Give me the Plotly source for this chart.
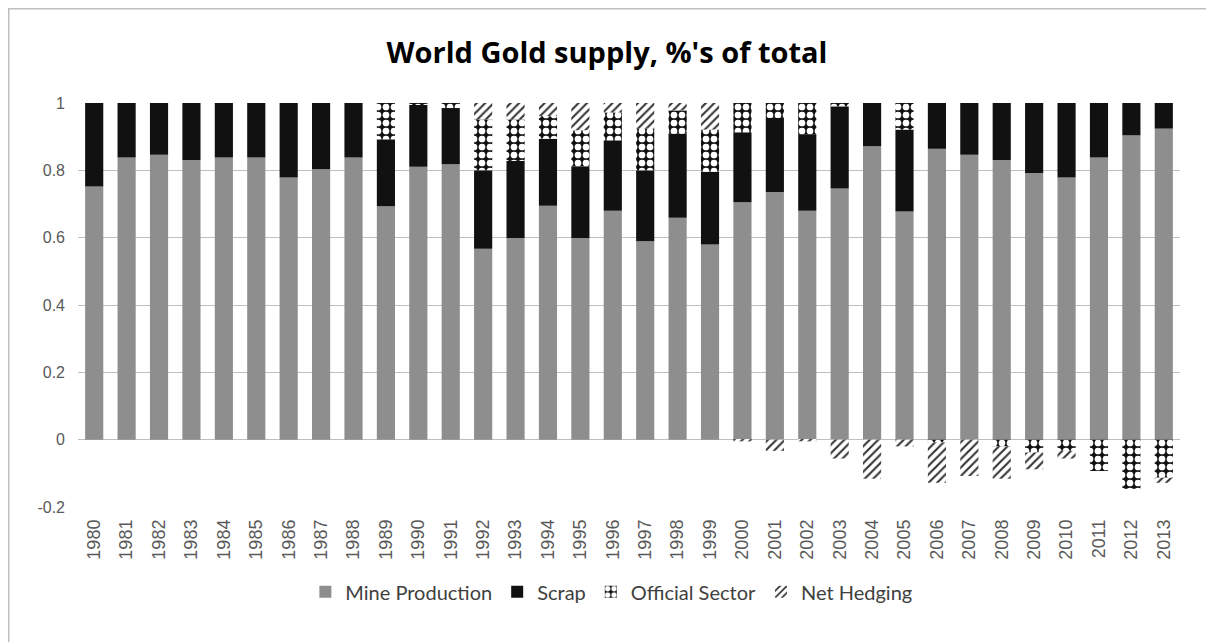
import plotly.graph_objects as go

years = [str(y) for y in range(1980, 2014)]

mine_production = [0.752, 0.838, 0.846, 0.831, 0.838, 0.838, 0.779, 0.803, 0.838, 0.693,
                   0.811, 0.818, 0.567, 0.599, 0.695, 0.599, 0.680, 0.589, 0.659, 0.580,
                   0.705, 0.736, 0.680, 0.746, 0.872, 0.678, 0.864, 0.846, 0.831, 0.792,
                   0.779, 0.838, 0.904, 0.924]
scrap = [0.248, 0.162, 0.154, 0.169, 0.162, 0.162, 0.221, 0.197, 0.162, 0.199,
         0.184, 0.167, 0.233, 0.229, 0.199, 0.212, 0.209, 0.211, 0.250, 0.216,
         0.208, 0.220, 0.227, 0.244, 0.128, 0.243, 0.136, 0.154, 0.169, 0.208,
         0.221, 0.162, 0.096, 0.076]
official_sector = [0.0, 0.0, 0.0, 0.0, 0.0, 0.0, 0.0, 0.0, 0.0, 0.108,
                   0.005, 0.015, 0.151, 0.123, 0.067, 0.108, 0.083, 0.124, 0.069, 0.125,
                   0.087, 0.044, 0.093, 0.010, 0.0, 0.079, -0.008, 0.0, -0.020, -0.038,
                   -0.033, -0.093, -0.146, -0.113]
net_hedging = [0.0, 0.0, 0.0, 0.0, 0.0, 0.0, 0.0, 0.0, 0.0, 0.0,
               0.0, 0.0, 0.049, 0.049, 0.039, 0.081, 0.028, 0.076, 0.022, 0.079,
               -0.005, -0.033, -0.005, -0.056, -0.116, -0.020, -0.120, -0.108, -0.096, -0.050,
               -0.023, 0.0, 0.0, -0.015]

y_ticks = [-0.2, 0, 0.2, 0.4, 0.6, 0.8, 1]
y_tick_labels = ["-0.2", "0", "0.2", "0.4", "0.6", "0.8", "1"]

# page body has an 8px margin, so paper coordinates are offset by 8px
W, H = 1214, 642
L, R, T, B = 70, 42, 95, 143
PW, PH = W - L - R, H - T - B

fig = go.Figure()
fig.add_trace(go.Bar(name="Mine Production", x=years, y=mine_production,
                     marker=dict(color="#8e8e8e", line=dict(width=0))))
fig.add_trace(go.Bar(name="Scrap", x=years, y=scrap,
                     marker=dict(color="#111111", line=dict(width=0))))
fig.add_trace(go.Bar(name="Official Sector", x=years, y=official_sector,
                     marker=dict(color="#111111", line=dict(width=0),
                                 pattern=dict(shape=".", bgcolor="#111111", fgcolor="#ffffff",
                                              size=8, solidity=0.55, fillmode="replace"))))
fig.add_trace(go.Bar(name="Net Hedging", x=years, y=net_hedging,
                     marker=dict(color="#ffffff", line=dict(width=0),
                                 pattern=dict(shape="/", bgcolor="#ffffff", fgcolor="#333333",
                                              size=6, solidity=0.35, fillmode="replace"))))

fig.update_layout(
    barmode="relative",
    bargap=0.44,
    width=W, height=H,
    margin=dict(l=L, r=R, t=T, b=B),
    paper_bgcolor="white", plot_bgcolor="white",
    title=dict(text="<b>World Gold supply, %'s of total</b>", x=599 / W, xanchor="center",
               y=1 - 45 / H, yanchor="middle",
               font=dict(family="Open Sans", size=29, color="#000000")),
    legend=dict(orientation="h", x=0.484, xanchor="center", y=-0.21, yanchor="middle",
                font=dict(family="Lato", size=20, color="#404040"),
                itemwidth=30, traceorder="normal"),
    xaxis=dict(type="category", tickangle=-90, showgrid=False, ticks="",
               tickfont=dict(family="Liberation Sans", size=18, color="#595959"),
               ticklabelstandoff=8, showline=False),
    yaxis=dict(range=[-0.2, 1], tickvals=y_ticks, ticktext=y_tick_labels,
               showgrid=True, gridcolor="#bfbfbf", gridwidth=1,
               zeroline=True, zerolinecolor="#bfbfbf", zerolinewidth=1,
               tickfont=dict(family="Liberation Sans", size=16, color="#595959"),
               ticklabelstandoff=12, ticks="", showline=False),
    shapes=[dict(type="rect", xref="paper", yref="paper",
                 x0=(0.75 - L) / PW, x1=(1200 - L) / PW,
                 y0=-0.6, y1=(H - B - 0.75) / PH,
                 line=dict(color="#bfbfbf", width=1.5), layer="below")],
)

fig.write_html("out.html")
